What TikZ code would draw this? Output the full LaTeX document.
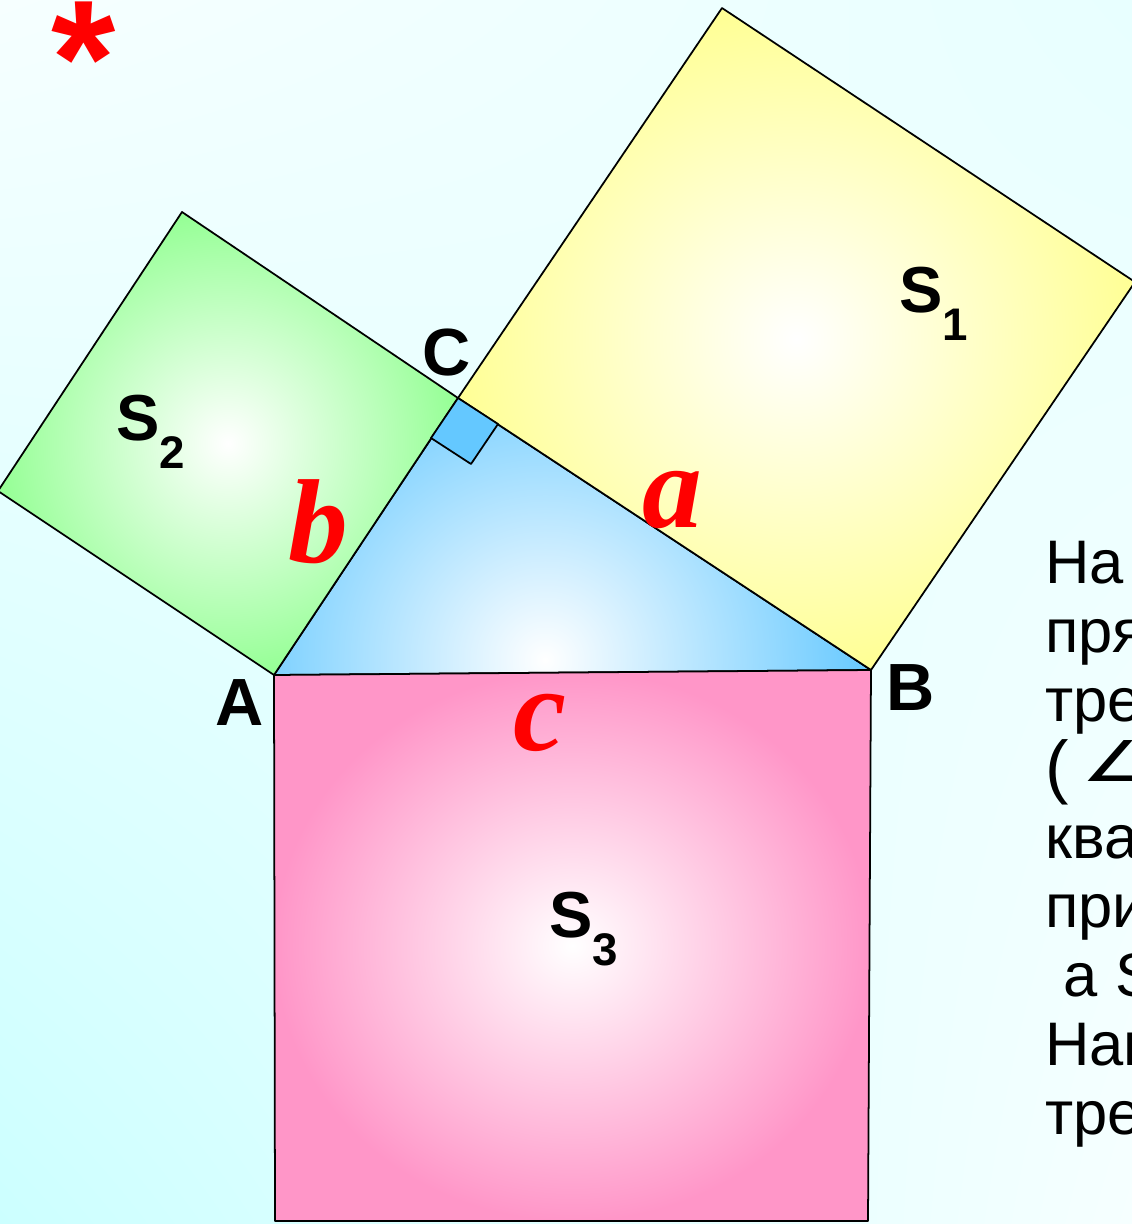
\documentclass[tikz,border=0pt]{standalone}
\usepackage{fontspec}
\setmainfont{Liberation Sans}
\newfontfamily\letterfont{Liberation Serif}
\newfontfamily\symfont{DejaVu Sans}
\usetikzlibrary{positioning, shadings}

\definecolor{bgcyan}{RGB}{204,255,255}
\definecolor{bgmid}{RGB}{232,255,255}
\definecolor{bglight}{RGB}{246,255,255}
\definecolor{sqgreen}{RGB}{150,255,150}
\definecolor{sqyellow}{RGB}{255,255,150}
\definecolor{sqpink}{RGB}{255,150,200}
\definecolor{triblue}{RGB}{100,200,255}

\newcommand{\areasub}[1]{\raisebox{-16pt}{\fontsize{26}{26}\selectfont #1}}

\begin{document}
\begin{tikzpicture}[x=0.02cm, y=-0.02cm,
    edge/.style={draw=black, line width=1pt, line join=round},
    vertex/.style={inner sep=0pt, font=\fontsize{38}{38}\selectfont\bfseries},
    area/.style={anchor=base west, inner sep=0pt, font=\fontsize{37}{37}\selectfont\bfseries},
    side/.style={inner sep=0pt, text=red, font=\fontsize{68}{68}\selectfont\letterfont\bfseries\itshape},
    note/.style={anchor=base west, inner sep=0pt, font=\fontsize{35}{35}\selectfont}]

    \clip (0,0) rectangle (1132,1224);
    \shade[upper left=bglight, upper right=bgmid, lower left=bgcyan, lower right=bglight] (0,0) rectangle (1132,1224);

    % triangle and squares
    \coordinate (A) at (274,675);
    \coordinate (B) at (871,670);
    \coordinate (C) at (458,398);
    \coordinate (g1) at (-2,491);
    \coordinate (g2) at (182,212);
    \coordinate (y1) at (722,8);
    \coordinate (y2) at (1135,282);
    \coordinate (p1) at (868,1221);
    \coordinate (p2) at (275,1221);

    \begin{scope}
        \clip (A) -- (B) -- (C) -- cycle;
        \shade[inner color=white, outer color=triblue] (545,660) circle (330);
    \end{scope}
    \draw[edge] (A) -- (B) -- (C) -- cycle;

    \shade[edge, inner color=white, outer color=sqgreen] (C) -- (A) -- (g1) -- (g2) -- cycle;
    \shade[edge, inner color=white, outer color=sqyellow] (C) -- (y1) -- (y2) -- (B) -- cycle;
    \shade[edge, inner color=white, outer color=sqpink] (A) -- (B) -- (p1) -- (p2) -- cycle;

    % right angle at C
    \coordinate (r1) at (431,438);
    \coordinate (r2) at (471,464);
    \coordinate (r3) at (498,424);
    \filldraw[edge, fill=triblue] (C) -- (r1) -- (r2) -- (r3) -- cycle;

    % labels
    \node[inner sep=0pt, anchor=north, text=red, font=\fontsize{94}{94}\selectfont\bfseries] (star) at (84,2) {*};
    \node[vertex] (labC) at (447,353) {C};
    \node[vertex] (labA) at (240,703) {A};
    \node[vertex] (labB) at (911,688) {B};
    \node[area] (s1) at (899,312) {S\areasub{1}};
    \node[area] (s2) at (116,440) {S\areasub{2}};
    \node[area] (s3) at (549,937) {S\areasub{3}};
    \node[side] (sa) at (672,500) {a};
    \node[side] (sb) at (318,522) {b};
    \node[side] (sc) at (540,723) {c};

    % text at the right edge
    \node[note] (t1) at (1045,583) {На};
    \node[note] (t2) at (1045,652) {пря};
    \node[note] (t3) at (1045,721) {тре};
    \node[note] (t4) at (1045,790) {{\fontsize{40}{40}\selectfont(}\hspace{7pt}\raisebox{5pt}{\scalebox{1.1}[0.8]{\symfont\fontsize{40}{40}\selectfont ∠}}};
    \node[note] (t5) at (1045,858) {ква};
    \node[note] (t6) at (1045,927) {при};
    \node[note] (t7) at (1045,996) {\hspace{0.3em}а S};
    \node[note] (t8) at (1045,1065) {Нап};
    \node[note] (t9) at (1045,1134) {тре};
\end{tikzpicture}
\end{document}
